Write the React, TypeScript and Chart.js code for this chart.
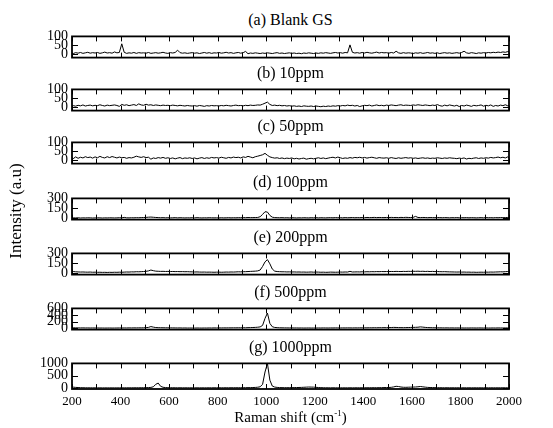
import React, { useEffect, useRef } from "react";
import { Chart, registerables } from "chart.js";
Chart.register(...registerables);

// Raman shift grid (cm^-1), one sample every 10 cm^-1
const ramanShift: number[] = [];
for (let v = 195; v <= 2005; v += 10) ramanShift.push(v);

const blankGS = [
  6, 3, 8, 5, 9, 4, 7, 10, 5, 8,
  6, 9, 4, 7, 11, 6, 8, 5, 12, 7,
  9, 58, 10, 4, 7, 5, 9, 4, 8, 6,
  7, 5, 9, 4, 6, 8, 5, 7, 10, 6,
  4, 8, 6, 9, 22, 8, 5, 7, 4, 6,
  8, 5, 7, 3, 6, 9, 5, 8, 4, 7,
  6, 9, 5, 7, 10, 6, 8, 4, 7, 9,
  5, 8, 15, 2, 6, 4, 7, 5, 3, 6,
  4, 7, 5, 3, 6, 8, 4, 6, 3, 5,
  7, 4, 6, 3, 5, 2, 6, 4, 7, 5,
  3, 6, 4, 7, 5, 8, 6, 4, 7, 9,
  6, 8, 5, 9, 7, 52, 10, 6, 8, 5,
  9, 6, 10, 7, 5, 8, 11, 6, 9, 7,
  8, 5, 9, 6, 16, 7, 4, 8, 5, 7,
  6, 3, 7, 5, 8, 4, 6, 9, 5, 7,
  4, 7, 3, 6, 8, 5, 7, 4, 6, 8,
  5, 9, 16, 7, 4, 8, 6, 3, 7, 5,
  8, 6, 9, 7, 10, 8, 11, 9, 12, 10,
  14, 16,
];

const ppm10 = [
  2, 8, 5, 10, 7, 12, 6, 9, 11, 7,
  10, 8, 13, 9, 6, 11, 8, 10, 12, 9,
  4, 15, 10, 13, 8, 11, 14, 9, 18, 12,
  10, 16, 11, 13, 9, 12, 10, 8, 11, 9,
  10, 8, 11, 9, 7, 10, 8, 6, 9, 7,
  6, 8, 5, 9, 7, 4, 8, 6, 9, 7,
  8, 6, 9, 7, 10, 8, 6, 9, 11, 8,
  9, 7, 10, 8, 11, 9, 10, 12, 11, 16,
  22, 28, 15, 9, 11, 8, 10, 7, 9, 6,
  8, 5, 7, 4, 6, 3, 7, 5, 4, 6,
  3, 6, 4, 2, 5, 3, 6, 4, 7, 5,
  8, 6, 9, 7, 11, 8, 10, 6, 9, 3,
  7, 10, 8, 11, 6, 9, 12, 8, 10, 7,
  11, 9, 12, 10, 8, 11, 13, 9, 11, 10,
  9, 12, 10, 13, 11, 9, 12, 10, 8, 11,
  9, 14, 8, 5, 11, 7, 12, 9, 6, 10,
  3, 9, 6, 11, 8, 4, 10, 7, 9, 12,
  5, 10, 7, 12, 4, 9, 6, 11, 8, 13,
  7, 10,
];

const ppm50 = [
  22, 8, 18, 10, 16, 12, 19, 14, 17, 11,
  18, 13, 21, 15, 12, 19, 14, 20, 16, 12,
  17, 13, 15, 10, 14, 12, 16, 22, 18, 15,
  19, 14, 16, 5, 12, 9, 14, 11, 15, 10,
  13, 9, 12, 7, 11, 14, 8, 12, 10, 13,
  9, 12, 7, 11, 14, 9, 13, 10, 15, 12,
  14, 11, 16, 13, 10, 15, 12, 17, 14, 16,
  12, 18, 15, 21, 17, 13, 19, 22, 26, 30,
  38, 27, 18, 14, 11, 13, 9, 12, 8, 11,
  9, 12, 7, 10, 6, 9, 11, 5, 8, 10,
  7, 10, 13, 9, 12, 8, 11, 14, 16, 12,
  17, 13, 9, 12, 10, 14, 11, 15, 13, 16,
  12, 15, 11, 14, 16, 13, 10, 14, 12, 11,
  13, 10, 14, 11, 9, 13, 10, 12, 14, 11,
  13, 10, 12, 9, 11, 13, 10, 12, 9, 11,
  10, 13, 11, 9, 12, 10, 13, 11, 10, 8,
  11, 9, 12, 6, 10, 8, 11, 13, 9, 12,
  10, 13, 11, 15, 12, 14, 17, 13, 16, 12,
  18, 10,
];

const ppm100 = [
  10, 8, 7, 9, 6, 8, 7, 9, 8, 6,
  7, 9, 8, 6, 8, 7, 9, 8, 7, 8,
  10, 8, 15, 9, 8, 10, 9, 11, 10, 12,
  13, 15, 18, 20, 17, 14, 12, 10, 11, 9,
  10, 8, 9, 11, 8, 10, 9, 7, 9, 8,
  10, 8, 11, 9, 7, 9, 8, 10, 9, 8,
  9, 7, 10, 8, 9, 11, 8, 10, 9, 11,
  10, 12, 11, 13, 12, 12, 13, 14, 25, 60,
  100, 95, 45, 18, 12, 11, 10, 11, 9, 10,
  8, 10, 9, 7, 9, 8, 10, 9, 8, 10,
  9, 11, 8, 10, 9, 8, 10, 11, 9, 12,
  10, 11, 9, 12, 10, 11, 13, 10, 12, 11,
  13, 11, 14, 12, 13, 15, 12, 14, 13, 12,
  14, 12, 15, 13, 14, 12, 15, 13, 16, 14,
  13, 15, 30, 14, 12, 14, 13, 11, 13, 12,
  11, 13, 12, 10, 12, 11, 9, 11, 10, 12,
  9, 11, 10, 12, 9, 11, 10, 8, 10, 11,
  9, 12, 10, 11, 9, 12, 10, 13, 11, 12,
  14, 12,
];

const ppm200 = [
  28, 22, 18, 16, 14, 15, 13, 12, 14, 11,
  12, 10, 11, 9, 10, 8, 10, 9, 11, 10,
  12, 11, 13, 15, 14, 17, 16, 19, 18, 20,
  22, 25, 32, 45, 35, 28, 26, 24, 25, 23,
  24, 22, 23, 21, 22, 20, 21, 19, 20, 18,
  17, 15, 16, 14, 13, 14, 12, 13, 12, 11,
  12, 13, 11, 12, 14, 13, 15, 14, 16, 18,
  17, 19, 20, 22, 24, 26, 28, 32, 45, 100,
  170, 205, 140, 60, 28, 22, 20, 18, 18, 16,
  17, 15, 16, 14, 15, 13, 14, 12, 13, 15,
  12, 14, 13, 11, 12, 10, 11, 13, 12, 11,
  12, 14, 13, 15, 14, 25, 15, 16, 17, 16,
  18, 17, 19, 18, 20, 19, 21, 20, 22, 21,
  22, 21, 23, 22, 24, 23, 22, 24, 23, 25,
  24, 26, 25, 27, 24, 26, 23, 25, 22, 24,
  21, 22, 20, 19, 20, 18, 17, 16, 15, 14,
  15, 13, 14, 12, 13, 11, 12, 10, 11, 12,
  11, 13, 12, 14, 13, 15, 16, 18, 17, 20,
  22, 24,
];

const ppm500 = [
  20, 18, 16, 15, 14, 15, 13, 14, 12, 13,
  12, 13, 11, 12, 10, 11, 12, 10, 11, 12,
  13, 12, 14, 13, 15, 14, 16, 15, 17, 16,
  18, 22, 30, 55, 38, 26, 22, 20, 19, 18,
  17, 16, 15, 14, 13, 14, 12, 13, 11, 12,
  11, 10, 12, 11, 10, 12, 11, 13, 12, 14,
  13, 15, 14, 16, 15, 17, 16, 18, 17, 19,
  18, 20, 19, 22, 24, 27, 30, 35, 45, 90,
  300, 460, 150, 50, 28, 22, 19, 17, 16, 15,
  14, 15, 13, 14, 12, 13, 11, 12, 13, 11,
  12, 11, 13, 12, 14, 13, 12, 14, 13, 15,
  14, 13, 15, 14, 16, 15, 14, 16, 15, 17,
  16, 18, 17, 19, 18, 20, 19, 21, 20, 22,
  21, 24, 26, 30, 28, 25, 23, 22, 24, 26,
  28, 30, 32, 35, 45, 38, 30, 25, 22, 20,
  19, 18, 17, 16, 15, 16, 14, 15, 13, 14,
  13, 14, 12, 13, 12, 14, 13, 12, 14, 13,
  12, 13, 11, 12, 13, 12, 14, 13, 12, 14,
  13, 15,
];

const ppm1000 = [
  50, 35, 25, 20, 15, 12, 10, 9, 8, 8,
  7, 8, 7, 6, 7, 6, 7, 6, 7, 6,
  7, 8, 7, 9, 8, 10, 9, 11, 10, 12,
  12, 14, 18, 25, 50, 150, 200, 70, 30, 18,
  14, 12, 11, 10, 9, 10, 9, 8, 9, 8,
  8, 7, 8, 7, 8, 7, 8, 9, 8, 9,
  9, 10, 9, 10, 11, 10, 11, 12, 11, 12,
  12, 13, 14, 15, 17, 20, 24, 32, 50, 150,
  650, 1000, 320, 80, 38, 25, 18, 15, 14, 13,
  14, 15, 17, 20, 22, 25, 30, 35, 40, 38,
  35, 28, 20, 15, 12, 10, 9, 8, 9, 8,
  8, 7, 8, 7, 8, 9, 8, 9, 10, 9,
  10, 11, 10, 12, 11, 13, 12, 14, 15, 18,
  20, 22, 28, 45, 70, 60, 40, 30, 28, 32,
  35, 38, 42, 50, 62, 48, 35, 25, 20, 18,
  15, 13, 12, 11, 10, 11, 10, 9, 10, 9,
  9, 8, 9, 8, 9, 8, 9, 8, 9, 8,
  8, 9, 8, 9, 8, 9, 8, 9, 10, 9,
  10, 9,
];

const panelSeries = [blankGS, ppm10, ppm50, ppm100, ppm200, ppm500, ppm1000];
const panelTitles = ["(a) Blank GS", "(b) 10ppm", "(c) 50ppm", "(d) 100ppm", "(e) 200ppm", "(f) 500ppm", "(g) 1000ppm"];
const yTickValues = [
  [0, 50, 100],
  [0, 50, 100],
  [0, 50, 100],
  [0, 150, 300],
  [0, 150, 300],
  [0, 200, 400, 600],
  [0, 500, 1000],
];
const yMins = [-20, -20, -20, -18, -25, -36, -40];
const yMaxs = [100, 100, 100, 300, 300, 600, 1000];
const xMin = 200;
const xMax = 2000;
const xLabelStep = 200;
const xTickMarks: number[] = [];
for (let v = 200; v <= 2000; v += 100) xTickMarks.push(v);

// layout
const W = 553;
const H = 428;
const PLOT_LEFT = 72;
const PLOT_RIGHT = 509;
const panelTops = [32, 85, 138, 194, 249, 304, 359];
const PLOT_H = 30;
const PAD_T = 8;
const PAD_B = 8;
const X_AXIS_H = 24;
const SERIF = "'Liberation Serif', 'Times New Roman', serif";

const framePlugin = {
  id: "frameTicks",
  afterDraw(chart: any) {
    const { ctx, chartArea } = chart;
    const { left, right, top, bottom } = chartArea;
    const x = chart.scales.x;
    const y = chart.scales.y;
    ctx.save();
    ctx.strokeStyle = "#000";
    ctx.lineWidth = 1;
    ctx.beginPath();
    for (const v of xTickMarks) {
      const px = Math.round(x.getPixelForValue(v)) + 0.5;
      ctx.moveTo(px, bottom);
      ctx.lineTo(px, bottom - 5);
      ctx.moveTo(px, top);
      ctx.lineTo(px, top + 5);
    }
    for (const t of y.ticks) {
      const py = Math.round(y.getPixelForValue(t.value)) + 0.5;
      ctx.moveTo(left, py);
      ctx.lineTo(left + 6, py);
      ctx.moveTo(right, py);
      ctx.lineTo(right - 6, py);
    }
    ctx.stroke();
    ctx.lineWidth = 1.8;
    ctx.strokeRect(left, top, right - left, bottom - top);
    ctx.restore();
  },
};

function Panel({ index }: { index: number }) {
  const ref = useRef<HTMLCanvasElement | null>(null);
  const isLast = index === panelSeries.length - 1;
  const canvasTop = panelTops[index] - PAD_T;
  const canvasH = PAD_T + PLOT_H + (isLast ? X_AXIS_H : PAD_B);

  useEffect(() => {
    if (!ref.current) return;
    const values = panelSeries[index];
    const ticks = yTickValues[index];
    const xScale: any = {
      type: "linear",
      min: xMin,
      max: xMax,
      display: isLast,
      grid: { display: false, drawTicks: false },
      border: { display: false },
      ticks: {
        stepSize: xLabelStep,
        color: "#000",
        font: { family: SERIF, size: 13 },
        padding: 5,
        maxRotation: 0,
        autoSkip: false,
        callback: (v: any) => String(v),
      },
    };
    if (isLast) {
      xScale.afterFit = (s: any) => {
        s.height = X_AXIS_H;
      };
    }
    const chart = new Chart(ref.current, {
      type: "line",
      data: {
        datasets: [
          {
            data: ramanShift.map((xv, i) => ({ x: xv, y: values[i] })),
            borderColor: "#000",
            borderWidth: 1,
            pointRadius: 0,
            tension: 0,
            fill: false,
          },
        ],
      },
      options: {
        animation: false,
        responsive: false,
        maintainAspectRatio: false,
        devicePixelRatio: 1,
        events: [],
        layout: { padding: { left: 0, right: W - PLOT_RIGHT, top: PAD_T, bottom: isLast ? 0 : PAD_B } },
        plugins: { legend: { display: false }, tooltip: { enabled: false }, title: { display: false } },
        scales: {
          x: xScale,
          y: {
            type: "linear",
            min: yMins[index],
            max: yMaxs[index],
            grid: { display: false, drawTicks: false },
            border: { display: false },
            ticks: {
              color: "#000",
              font: { family: SERIF, size: 14 },
              padding: 4,
              autoSkip: false,
              callback: (v: any) => String(v),
            },
            afterBuildTicks: (s: any) => {
              s.ticks = ticks.map((v) => ({ value: v }));
            },
            afterFit: (s: any) => {
              s.width = PLOT_LEFT;
            },
          },
        },
      } as any,
      plugins: [framePlugin],
    });
    return () => chart.destroy();
  }, [index]);

  return (
    <>
      <div
        style={{
          position: "absolute",
          left: PLOT_LEFT,
          width: PLOT_RIGHT - PLOT_LEFT,
          top: panelTops[index] - 21,
          height: 18,
          lineHeight: "18px",
          fontSize: 16,
          textAlign: "center",
          fontFamily: SERIF,
          color: "#000",
          whiteSpace: "nowrap",
        }}
      >
        {panelTitles[index]}
      </div>
      <canvas
        ref={ref}
        width={W}
        height={canvasH}
        style={{ position: "absolute", left: 0, top: canvasTop, width: W, height: canvasH }}
      />
    </>
  );
}

export default function App() {
  return (
    <div
      style={{
        position: "absolute",
        left: 0,
        top: 0,
        width: W,
        height: H,
        background: "#fff",
        overflow: "hidden",
        fontFamily: SERIF,
      }}
    >
      {panelSeries.map((_, i) => (
        <Panel key={i} index={i} />
      ))}
      <div
        style={{
          position: "absolute",
          left: 16 - 100,
          top: 211 - 9,
          width: 200,
          height: 18,
          lineHeight: "18px",
          fontSize: 17,
          textAlign: "center",
          transform: "rotate(-90deg)",
          color: "#000",
          whiteSpace: "nowrap",
        }}
      >
        Intensity (a.u)
      </div>
      <div
        style={{
          position: "absolute",
          left: PLOT_LEFT,
          width: PLOT_RIGHT - PLOT_LEFT,
          top: 408,
          height: 18,
          lineHeight: "18px",
          fontSize: 15,
          textAlign: "center",
          color: "#000",
          whiteSpace: "nowrap",
        }}
      >
        Raman shift (cm<span style={{ fontSize: 9, position: "relative", top: -6 }}>-1</span>)
      </div>
    </div>
  );
}
